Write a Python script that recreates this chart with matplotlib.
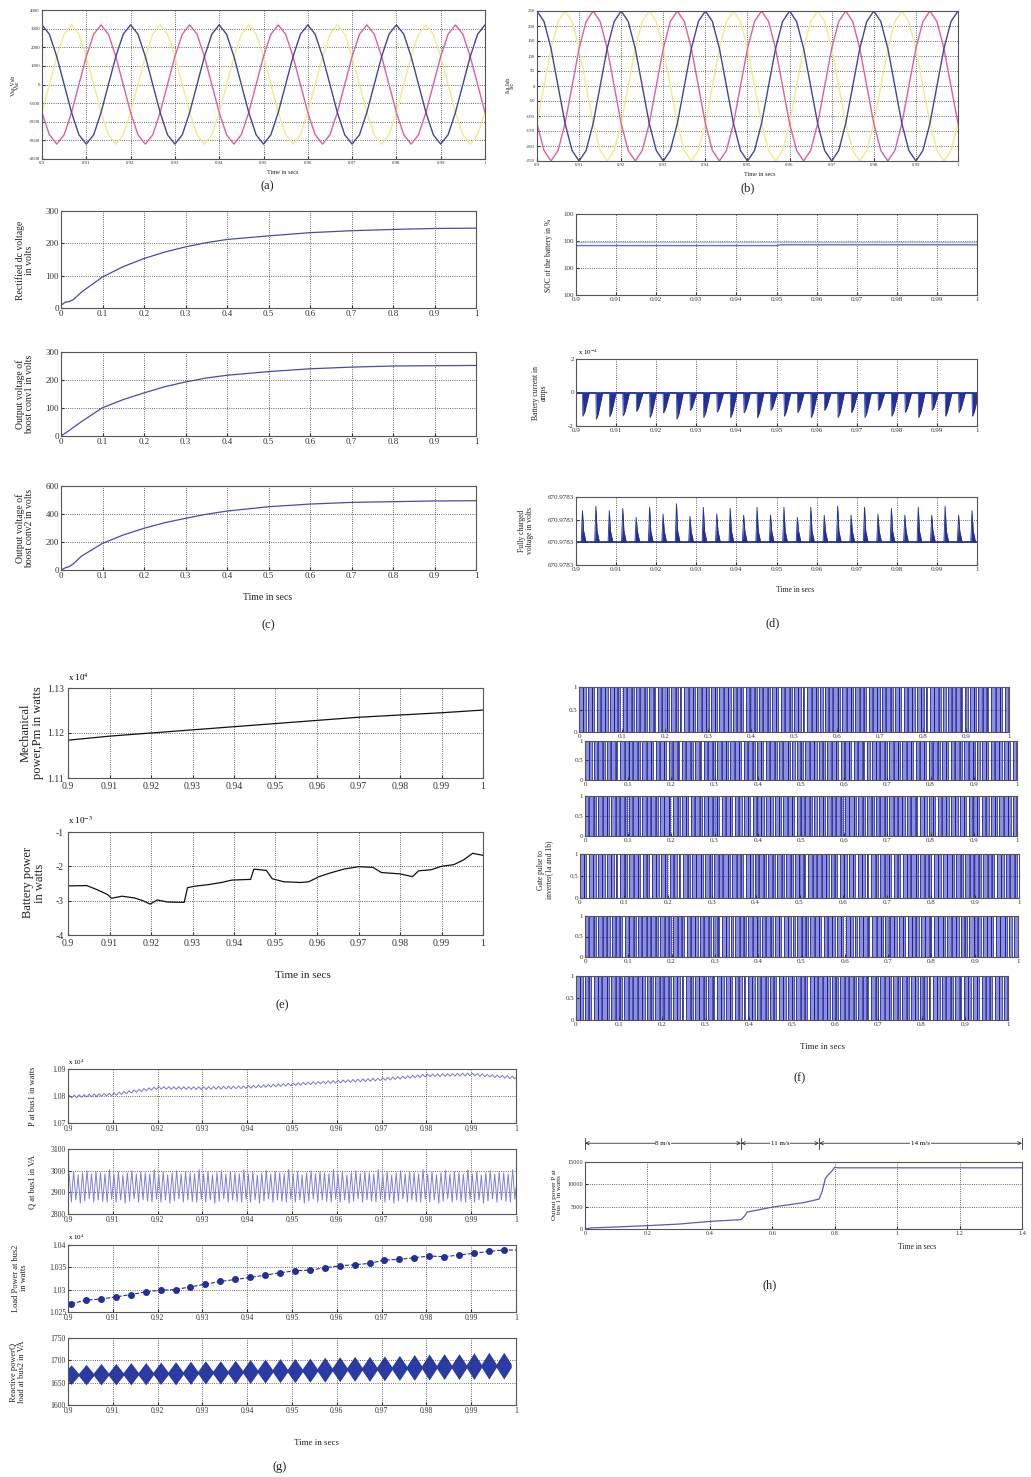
"""Composite of power-system simulation panels (a)-(h), MATLAB look."""
import matplotlib

matplotlib.use("Agg")
import matplotlib.pyplot as plt
import matplotlib.transforms as mtrans
import numpy as np

W, H = 1031, 1477

# ---------------- data ----------------
# time ticks shared by the 0.9-1 s panels
t_fine_ticks = [0.9, 0.91, 0.92, 0.93, 0.94, 0.95, 0.96, 0.97, 0.98, 0.99, 1.0]
t_fine_labels = ["0.9", "0.91", "0.92", "0.93", "0.94", "0.95", "0.96", "0.97", "0.98", "0.99", "1"]
t_full_ticks = [0, 0.1, 0.2, 0.3, 0.4, 0.5, 0.6, 0.7, 0.8, 0.9, 1.0]
t_full_labels = ["0", "0.1", "0.2", "0.3", "0.4", "0.5", "0.6", "0.7", "0.8", "0.9", "1"]

# (a) source voltages: one 50 Hz cycle, 12 samples, repeated 5 times
va_blue = [3200, 2700, 1500, 0, -1500, -2700, -3200, -2700, -1500, 0, 1500, 2700]
va_yellow = [-1500, 0, 1500, 2700, 3200, 2700, 1500, 0, -1500, -2700, -3200, -2700]
va_pink = [-1500, -2700, -3200, -2700, -1500, 0, 1500, 2700, 3200, 2700, 1500, 0]
a_yticks = [-4000, -3000, -2000, -1000, 0, 1000, 2000, 3000, 4000]

# (b) source currents
ib_blue = [250, 215, 125, 0, -125, -215, -250, -215, -125, 0, 125, 215]
ib_yellow = [-125, 0, 125, 215, 250, 215, 125, 0, -125, -215, -250, -215]
ib_pink = [-125, -215, -250, -215, -125, 0, 125, 215, 250, 215, 125, 0]
b_yticks = [-250, -200, -150, -100, -50, 0, 50, 100, 150, 200, 250]

# (c) dc voltages 0-1 s
t_c = [0, 0.01, 0.02, 0.03, 0.05, 0.1, 0.15, 0.2, 0.25, 0.3, 0.35, 0.4, 0.5, 0.6, 0.7, 0.8, 0.9, 1.0]
v_rect = [8, 18, 20, 26, 50, 96, 128, 153, 173, 189, 202, 212, 223, 233, 239, 243, 246, 247]
v_boost1 = [0, 10, 20, 31, 52, 101, 130, 154, 176, 193, 207, 217, 230, 240, 246, 250, 251, 252]
v_boost2 = [0, 15, 25, 45, 100, 190, 250, 298, 338, 369, 398, 421, 452, 471, 483, 488, 493, 495]

# (d) battery
soc_t = [0.9, 0.95, 0.951, 1.0]
soc_main = [1.83, 1.83, 1.86, 1.86]
soc_upper = [1.98, 1.98, 1.98, 1.98]
spike_t0 = 0.9016
spike_step = 0.00335
ibat_depth = [-1.42, -1.6, -1.45, -1.4, -1.13, -1.5, -1.22, -1.6, -1.07, -1.5,
              -1.18, -1.5, -1.22, -1.5, -1.07, -1.42, -1.2, -1.5, -1.07, -1.5,
              -1.2, -1.5, -1.07, -1.42, -1.2, -1.5, -1.07, -1.42, -1.2, -1.42]
vbat_peak = [2.4, 2.6, 2.4, 2.5, 2.1, 2.55, 2.25, 2.7, 2.15, 2.55,
             2.25, 2.5, 2.2, 2.55, 2.2, 2.55, 2.1, 2.55, 2.2, 2.6,
             2.2, 2.55, 2.25, 2.5, 2.2, 2.55, 2.2, 2.6, 2.2, 2.4]

# (e) mechanical and battery power
t_e1 = [0.9, 0.91, 0.92, 0.93, 0.94, 0.95, 0.96, 0.97, 0.98, 0.99, 1.0]
pm = [1.1184, 1.1193, 1.1200, 1.1207, 1.1214, 1.1221, 1.1228, 1.1235, 1.1240, 1.1245, 1.1251]
t_e2 = [0.9, 0.9045, 0.907, 0.9095, 0.9105, 0.913, 0.916, 0.918, 0.9198, 0.9215,
        0.924, 0.928, 0.9288, 0.9305, 0.934, 0.937, 0.9395, 0.944, 0.9448, 0.9478,
        0.9492, 0.952, 0.956, 0.958, 0.9605, 0.963, 0.9665, 0.97, 0.9735, 0.9755,
        0.98, 0.983, 0.9845, 0.9875, 0.99, 0.993, 0.9955, 0.9975, 1.0]
pbat = [-2.57, -2.56, -2.68, -2.82, -2.93, -2.87, -2.92, -3.0, -3.1, -2.98,
        -3.04, -3.05, -2.62, -2.58, -2.53, -2.47, -2.4, -2.38, -2.08, -2.12,
        -2.36, -2.45, -2.47, -2.45, -2.3, -2.2, -2.08, -2.01, -2.03, -2.18,
        -2.22, -2.3, -2.13, -2.1, -2.0, -1.95, -1.8, -1.62, -1.68]

# (f) gate pulses: duty ratio of each carrier period, pattern repeated
pulse_period = 1 / 98
pulse_reps = 7
gate_duty = [
    [0.85, 0.6, 0.92, 0.4, 0.75, 0.95, 0.55, 0.88, 0.65, 0.3, 0.8, 0.93, 0.5, 0.7],
    [0.9, 0.5, 0.8, 0.95, 0.45, 0.7, 0.88, 0.35, 0.75, 0.92, 0.6, 0.85, 0.4, 0.78],
    [0.7, 0.92, 0.5, 0.83, 0.95, 0.38, 0.8, 0.6, 0.9, 0.45, 0.72, 0.94, 0.55, 0.86],
    [0.8, 0.45, 0.9, 0.65, 0.94, 0.5, 0.85, 0.7, 0.33, 0.9, 0.6, 0.82, 0.95, 0.48],
    [0.6, 0.88, 0.42, 0.93, 0.7, 0.55, 0.9, 0.8, 0.38, 0.86, 0.95, 0.5, 0.75, 0.9],
    [0.92, 0.55, 0.78, 0.4, 0.88, 0.65, 0.95, 0.5, 0.83, 0.7, 0.35, 0.9, 0.6, 0.8],
]

# (g) bus powers
t_g = [0.9, 0.91, 0.92, 0.93, 0.94, 0.95, 0.96, 0.97, 0.98, 0.99, 1.0]
p_bus1_trend = [1.0797, 1.0806, 1.0830, 1.0829, 1.0833, 1.0843, 1.0853, 1.0862, 1.0876, 1.0880, 1.0868]
p_bus1_ripple = [0.0, 0.0005, 0.0, -0.0005]
q_bus1_peak = [2985, 2995, 2980, 2990, 3000, 2985, 2995, 2990, 2985, 3005]
q_bus1_trough = [2855, 2865, 2850, 2860, 2870, 2855, 2865, 2858, 2855, 2868]
p_load_marks = [1.02688, 1.02763, 1.02793, 1.02838, 1.02890, 1.02950, 1.02988, 1.03003, 1.03063, 1.03123,
                1.03183, 1.03228, 1.03273, 1.03325, 1.03378, 1.03423, 1.03438, 1.03490, 1.03535, 1.03558,
                1.03588, 1.03663, 1.03678, 1.03715, 1.03753, 1.03738, 1.03775, 1.03813, 1.03858, 1.03888]
mark_t0 = 0.9007
mark_step = 0.00333
q_load_center = [1668, 1668, 1669, 1669, 1670, 1670, 1671, 1671, 1672, 1673,
                 1673, 1674, 1675, 1676, 1677, 1677, 1678, 1679, 1680, 1681,
                 1681, 1682, 1683, 1684, 1685, 1686, 1686, 1687, 1688, 1688]
q_load_amp = [22, 23, 24, 24, 25, 25, 25, 26, 26, 26, 26, 26, 27, 27, 27,
              27, 27, 28, 28, 28, 28, 28, 28, 29, 29, 29, 29, 30, 30, 30]

# (h) output power vs wind speed
t_h = [0, 0.02, 0.1, 0.2, 0.3, 0.4, 0.5, 0.51, 0.52, 0.6, 0.7, 0.75, 0.76, 0.77,
       0.78, 0.79, 0.8, 0.81, 0.9, 1.0, 1.2, 1.4]
p_h = [0, 250, 450, 750, 1100, 1700, 2100, 2800, 3800, 4900, 5900, 6700, 8500, 11300,
       12200, 12900, 13800, 13700, 13700, 13700, 13700, 13700]
h_xticks = [0, 0.2, 0.4, 0.6, 0.8, 1.0, 1.2, 1.4]
h_xlabels = ["0", "0.2", "0.4", "0.6", "0.8", "1", "1.2", "1.4"]
speed_edges = [0, 0.5, 0.75, 1.4]
speed_labels = ["8 m/s", "11 m/s", "14 m/s"]

# ---------------- drawing ----------------
plt.rcParams.update({
    "font.family": ["Liberation Serif", "DejaVu Serif"],
    "font.size": 6,
    "axes.linewidth": 0.8,
    "axes.edgecolor": "#555555",
    "mathtext.fontset": "stix",
})

fig = plt.figure(figsize=(W / 100, H / 100), dpi=100)

BLUE = "#4a4aa8"
DARK = "#23309a"
GRID = dict(linestyle=":", color="#333333", linewidth=0.6)


def box(l, t, r, b):
    return fig.add_axes([l / W, 1 - b / H, (r - l) / W, (b - t) / H])


def style(ax, xlim, ylim, xt, xtl, yt, ytl=None, fs=6, pad=1.5):
    ax.set_xlim(xlim)
    ax.set_ylim(ylim)
    ax.set_xticks(xt)
    ax.set_xticklabels(xtl)
    ax.set_yticks(yt)
    if ytl is not None:
        ax.set_yticklabels(ytl)
    ax.grid(True, **GRID)
    ax.tick_params(labelsize=fs, direction="in", length=2, pad=pad, colors="#333333")


def ftext(x, y, s, fs=7, rot=0, **kw):
    fig.text(x / W, 1 - y / H, s, fontsize=fs, rotation=rot, ha="center", va="center",
             color="#222222", linespacing=1.0, **kw)


def tiled(cycle, n):
    return np.array(cycle * n + cycle[:1], dtype=float)


# (a)
ax = box(42, 10, 485, 159)
ta = np.linspace(0.9, 1.0, 61)
ax.plot(ta, tiled(va_yellow, 5), color="#eeee88", lw=1.0)
ax.plot(ta, tiled(va_pink, 5), color="#dd5fa0", lw=1.0)
ax.plot(ta, tiled(va_blue, 5), color="#45459a", lw=1.0)
style(ax, (0.9, 1.0), (-4000, 4000), t_fine_ticks, t_fine_labels,
      a_yticks, [str(v) for v in a_yticks], fs=3.5)
ftext(15, 85, "Vsa,Vsb\nVsc", fs=4.5, rot=90)
ftext(283, 172, "Time in secs", fs=4.5)
ftext(267, 186, "(a)", fs=9)

# (b)
ax = box(537, 11, 958, 161)
ax.plot(ta, tiled(ib_yellow, 5), color="#eeee88", lw=1.0)
ax.plot(ta, tiled(ib_pink, 5), color="#dd5fa0", lw=1.0)
ax.plot(ta, tiled(ib_blue, 5), color="#45459a", lw=1.0)
style(ax, (0.9, 1.0), (-250, 250), t_fine_ticks, t_fine_labels,
      b_yticks, [str(v) for v in b_yticks], fs=3.5)
ftext(510, 85, "Isa,Isb\nIsc", fs=4.5, rot=90)
ftext(760, 174, "Time in secs", fs=4.5)
ftext(748, 188, "(b)", fs=9)

# (c)
c_specs = [
    ((61, 211, 476, 308), v_rect, 300, [0, 100, 200, 300], "Rectified dc voltage\nin volts", 260),
    ((61, 352, 476, 436), v_boost1, 300, [0, 100, 200, 300], "Output voltage of\nboost conv1 in volts", 394),
    ((61, 486, 476, 570), v_boost2, 600, [0, 200, 400, 600], "Output voltage of\nboost conv2 in volts", 528),
]
for rect, vals, top, yt, lab, ly in c_specs:
    ax = box(*rect)
    ax.plot(t_c, vals, color=BLUE, lw=0.9)
    style(ax, (0, 1), (0, top), t_full_ticks, t_full_labels, yt, [str(v) for v in yt], fs=6.5)
    ftext(25, ly, lab, fs=7, rot=90)
ftext(268, 598, "Time in secs", fs=7)
ftext(268, 625, "(c)", fs=9)

# (d)
ax = box(576, 214, 977, 295)
ax.plot(soc_t, soc_upper, color="#b8bce0", lw=1.0)
ax.plot(soc_t, soc_main, color="#6a70b8", lw=1.0)
style(ax, (0.9, 1.0), (0, 3), t_fine_ticks, t_fine_labels, [0, 1, 2, 3], ["100"] * 4, fs=5)
ftext(549, 255, "SOC of the battery in %", fs=5.5, rot=90)

ax = box(576, 359, 977, 426)
xs, ys = [0.9], [0.0]
for k, d in enumerate(ibat_depth):
    t0 = spike_t0 + k * spike_step
    xs += [t0, t0 + 0.0001, t0 + 0.0006, t0 + 0.0013, t0 + 0.0017]
    ys += [0.0, d, 0.8 * d, 0.3 * d, 0.0]
xs.append(1.0)
ys.append(0.0)
ax.fill_between(xs, ys, 0, color=DARK, lw=0)
ax.plot(xs, ys, color=DARK, lw=0.5)
ax.axhline(0, color=DARK, lw=1.2)
style(ax, (0.9, 1.0), (-2, 2), t_fine_ticks, t_fine_labels, [-2, 0, 2], ["-2", "0", "2"], fs=5)
ax.text(0.005, 1.03, r"x 10$^{-4}$", transform=ax.transAxes, fontsize=5, va="bottom")
ftext(540, 393, "Battery current in\namps", fs=5.5, rot=90)

ax = box(576, 497, 977, 565)
xs, ys = [0.9], [1.0]
for k, hgt in enumerate(vbat_peak):
    t0 = spike_t0 + k * spike_step
    xs += [t0 - 0.0003, t0, t0 + 0.0003, t0 + 0.0009]
    ys += [1.0, hgt, 1.5, 1.0]
xs.append(1.0)
ys.append(1.0)
ax.fill_between(xs, ys, 1.0, color=DARK, lw=0)
ax.plot(xs, ys, color=DARK, lw=0.6)
ax.axhline(1.0, color=DARK, lw=1.2)
style(ax, (0.9, 1.0), (0, 3), t_fine_ticks, t_fine_labels, [0, 1, 2, 3], ["670.9783"] * 4, fs=5)
ftext(526, 531, "Fully charged\nvoltage in volts", fs=5.5, rot=90)
ftext(795, 590, "Time in secs", fs=5.5)
ftext(773, 623, "(d)", fs=9)

# (e)
ax = box(68, 688, 483, 778)
ax.plot(t_e1, pm, color="#111111", lw=0.9)
style(ax, (0.9, 1.0), (1.11, 1.13), t_fine_ticks, t_fine_labels, [1.11, 1.12, 1.13],
      ["1.11", "1.12", "1.13"], fs=7, pad=3)
ax.text(0.0, 1.06, r"x 10$^4$", transform=ax.transAxes, fontsize=6.5, va="bottom")
ftext(32, 733, "Mechanical\npower,Pm in watts", fs=9, rot=90)

ax = box(68, 832, 483, 935)
ax.plot(t_e2, pbat, color="#111111", lw=0.9)
style(ax, (0.9, 1.0), (-4, -1), t_fine_ticks, t_fine_labels, [-4, -3, -2, -1],
      ["-4", "-3", "-2", "-1"], fs=7, pad=3)
ax.text(0.0, 1.06, r"x 10$^{-3}$", transform=ax.transAxes, fontsize=6.5, va="bottom")
ftext(34, 883, "Battery power\nin watts", fs=9, rot=90)
ftext(303, 975, "Time in secs", fs=8)
ftext(282, 1005, "(e)", fs=9)

# (f)
f_boxes = [(579, 687, 1009, 732), (585, 741, 1017, 780), (585, 796, 1017, 836),
           (580, 854, 1019, 898), (585, 916, 1018, 957), (576, 976, 1008, 1020)]
for rect, duties in zip(f_boxes, gate_duty):
    ax = box(*rect)
    xs, ys = [], []
    k = 0
    for _ in range(pulse_reps):
        for d in duties:
            t0 = k * pulse_period
            xs += [t0, t0, t0 + d * pulse_period, t0 + d * pulse_period]
            ys += [0, 1, 1, 0]
            k += 1
    ax.fill_between(xs, ys, 0, color="#8c90e0", lw=0)
    ax.plot(xs, ys, color="#1e2290", lw=0.55)
    style(ax, (0, 1), (0, 1), t_full_ticks, t_full_labels, [0, 0.5, 1], ["0", "0.5", "1"], fs=5)
    ax.grid(True, color="#333366", linestyle=":", linewidth=0.5)
ftext(545, 870, "Gate pulse to\ninverter(1a and 1b)", fs=5.5, rot=90)
ftext(822, 1047, "Time in secs", fs=6.5)
ftext(800, 1078, "(f)", fs=9)

# (g)
ax = box(68, 1069, 516, 1123)
tg1 = np.linspace(0.9, 1.0, 361)
ripple = tiled(p_bus1_ripple, 90)
ax.plot(tg1, np.interp(tg1, t_g, p_bus1_trend) + ripple, color="#7575d0", lw=0.7)
style(ax, (0.9, 1.0), (1.07, 1.09), t_fine_ticks, t_fine_labels, [1.07, 1.08, 1.09],
      ["1.07", "1.08", "1.09"], fs=5.5)
ax.text(0.0, 1.04, r"x 10$^4$", transform=ax.transAxes, fontsize=5, va="bottom")
ftext(33, 1096, "P at bus1 in watts", fs=6, rot=90)

ax = box(68, 1149, 516, 1214)
q_cycle = []
for pk, tr in zip(q_bus1_peak, q_bus1_trough):
    mid = (pk + tr) / 2
    q_cycle += [mid, pk, mid, tr]
q_vals = np.array(q_cycle * 10 + q_cycle[:1], dtype=float)
ax.plot(np.linspace(0.9, 1.0, len(q_vals)), q_vals, color="#8080d8", lw=0.7)
style(ax, (0.9, 1.0), (2800, 3100), t_fine_ticks, t_fine_labels, [2800, 2900, 3000, 3100],
      ["2800", "2900", "3000", "3100"], fs=5.5)
ftext(33, 1182, "Q at bus1 in VA", fs=6, rot=90)

ax = box(68, 1245, 516, 1312)
mark_t = [mark_t0 + k * mark_step for k in range(len(p_load_marks))]
ax.plot(mark_t + [1.0], p_load_marks + [p_load_marks[-1]], color=DARK, lw=0.8, ls="--")
ax.plot(mark_t, p_load_marks, "o", color=DARK, ms=4)
style(ax, (0.9, 1.0), (1.025, 1.04), t_fine_ticks, t_fine_labels, [1.025, 1.03, 1.035, 1.04],
      ["1.025", "1.03", "1.035", "1.04"], fs=5.5)
ax.text(0.0, 1.04, r"x 10$^4$", transform=ax.transAxes, fontsize=5, va="bottom")
ftext(20, 1278, "Load Power at bus2\nin watts", fs=6, rot=90)

ax = box(68, 1338, 516, 1405)
xs, up, lo = [], [], []
for k, (c, a) in enumerate(zip(q_load_center, q_load_amp)):
    tk = mark_t0 + k * mark_step
    for dt, frac in ((-mark_step / 2, 0.12), (0, 1.0), (mark_step / 2, 0.12)):
        xs.append(tk + dt)
        up.append(c + frac * a)
        lo.append(c - frac * a)
ax.fill_between(xs, lo, up, color="#2b3ba6", lw=0)
style(ax, (0.9, 1.0), (1600, 1750), t_fine_ticks, t_fine_labels, [1600, 1650, 1700, 1750],
      ["1600", "1650", "1700", "1750"], fs=5.5)
ftext(18, 1372, "Reactive powerQ\nload at bus2 in VA", fs=6, rot=90)
ftext(317, 1443, "Time in secs", fs=6.5)
ftext(280, 1467, "(g)", fs=9)

# (h)
ax = box(585, 1162, 1022, 1229)
ax.plot(t_h, p_h, color="#5a5ab8", lw=0.9)
style(ax, (0, 1.4), (0, 15000), h_xticks, h_xlabels, [0, 5000, 10000, 15000],
      ["0", "5000", "10000", "15000"], fs=4.5)
tr = mtrans.blended_transform_factory(ax.transData, ax.transAxes)
for x0, x1, lab in zip(speed_edges[:-1], speed_edges[1:], speed_labels):
    ax.annotate("", xy=(x1, 1.28), xytext=(x0, 1.28), xycoords=tr, textcoords=tr,
                arrowprops=dict(arrowstyle="<->", lw=0.6, color="#333333",
                                shrinkA=0, shrinkB=0, mutation_scale=6))
    ax.text((x0 + x1) / 2, 1.28, lab, transform=tr, fontsize=5, ha="center", va="center",
            bbox=dict(facecolor="white", edgecolor="none", pad=0.5))
for x in speed_edges:
    ax.plot([x, x], [1.2, 1.36], transform=tr, color="#333333", lw=0.6, clip_on=False)
ftext(557, 1195, "Output power P at\nbus 1 in watts", fs=5, rot=90)
ftext(917, 1247, "Time in secs", fs=5.5)
ftext(770, 1285, "(h)", fs=9)

fig.savefig("out.png", dpi=100, facecolor="white")
